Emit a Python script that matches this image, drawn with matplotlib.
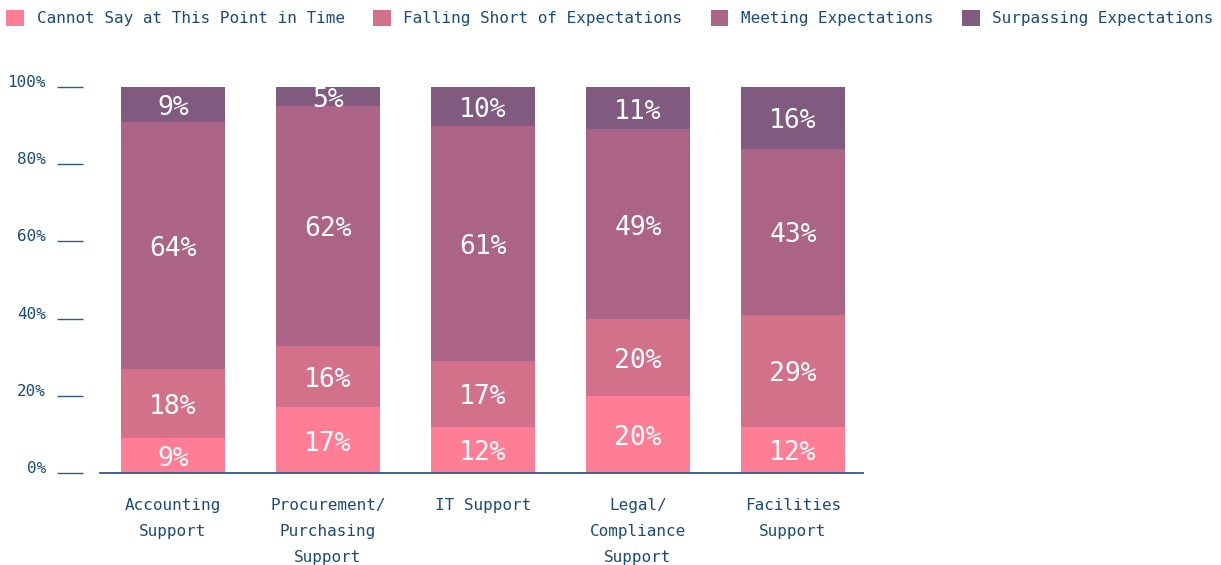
import numpy as np
import matplotlib
matplotlib.use("Agg")
import matplotlib.pyplot as plt
from matplotlib.patches import Patch

plt.rcParams["font.family"] = ["DejaVu Sans Mono"]

categories = ["Accounting\nSupport", "Procurement/\nPurchasing\nSupport", "IT Support",
              "Legal/\nCompliance\nSupport", "Facilities\nSupport"]
series_names = ["Cannot Say at This Point in Time", "Falling Short of Expectations",
                "Meeting Expectations", "Surpassing Expectations"]
cannot_say = [9, 17, 12, 20, 12]
falling_short = [18, 16, 17, 20, 29]
meeting = [64, 62, 61, 49, 43]
surpassing = [9, 5, 10, 11, 16]
yticks = [0, 20, 40, 60, 80, 100]

colors = ["#FF7E96", "#D3718B", "#AB6485", "#805A7F"]
txt_color = "#1B4B7D"
line_color = "#2E5A8A"

W, H = 1221, 565
fig = plt.figure(figsize=(W / 100, H / 100), dpi=100)
ax = fig.add_axes([83 / W, (H - 473) / H, (863 - 83) / W, (473 - 87) / H])

x = np.arange(len(categories))
bottom = np.zeros(len(categories))
for vals, col in zip([cannot_say, falling_short, meeting, surpassing], colors):
    vals = np.array(vals, dtype=float)
    ax.bar(x, vals, bottom=bottom, width=0.672, color=col, zorder=2)
    for xi, b, v in zip(x, bottom, vals):
        # 标签放在每段中间，略微下移
        ax.annotate(f"{int(v)}%", (xi, b + v / 2), xytext=(0, -2.5),
                    textcoords="offset points", ha="center", va="center",
                    color="white", fontsize=19, zorder=3)
    bottom += vals

ax.set_xlim(-0.5806, 4.4516)
ax.set_ylim(0, 100)

for s in ["top", "right", "left"]:
    ax.spines[s].set_visible(False)
ax.spines["bottom"].set_color(line_color)
ax.spines["bottom"].set_linewidth(1.3)
ax.spines["bottom"].set_bounds(-0.471, 4.4516)

ax.set_yticks(yticks)
ax.set_yticklabels([f"{v}%" for v in yticks], fontsize=11.5, color=txt_color, va="baseline")
ax.tick_params(axis="y", direction="out", length=18.7, width=1.0, color=line_color, pad=8)

ax.set_xticks(x)
ax.set_xticklabels(categories, fontsize=11.5, color=txt_color, linespacing=1.9)
ax.tick_params(axis="x", length=0, pad=18)

handles = [Patch(facecolor=c, edgecolor="none") for c in colors]
fig.legend(handles, series_names, loc="upper left", bbox_to_anchor=(6 / W, 1 - 10 / H),
           ncol=4, frameon=False, fontsize=11.5, labelcolor=txt_color,
           handlelength=1.125, handleheight=1.125, handletextpad=0.8,
           columnspacing=1.75, borderpad=0, borderaxespad=0)

fig.savefig("out.png", dpi=100)
